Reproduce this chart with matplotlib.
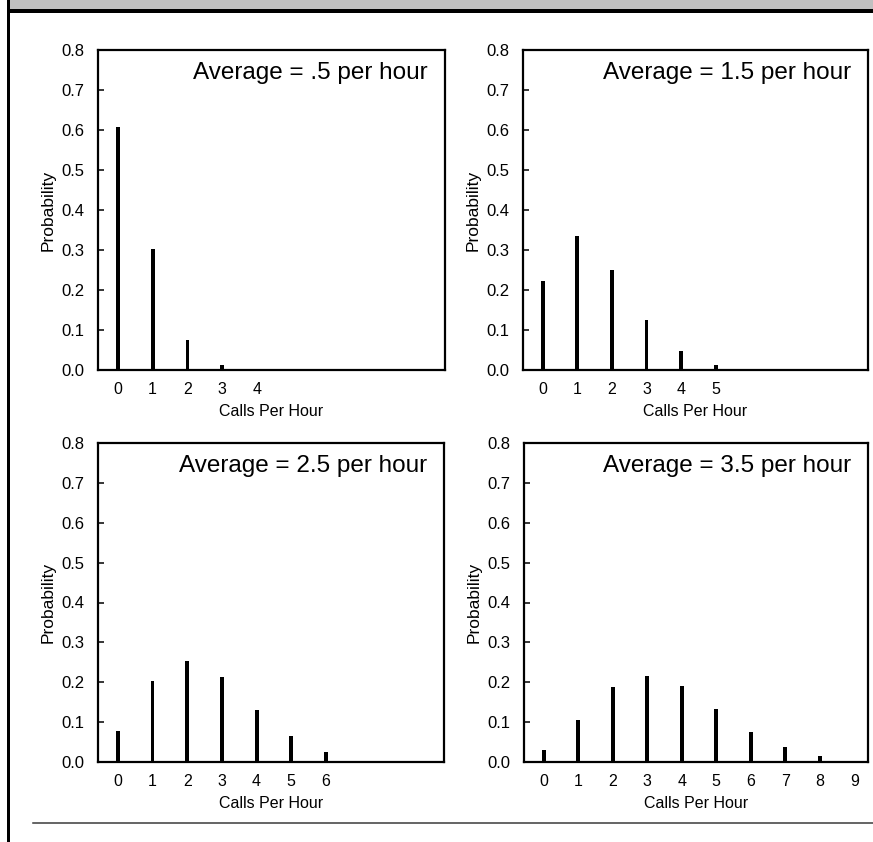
import matplotlib
matplotlib.use("Agg")
import matplotlib.pyplot as plt
from matplotlib.patches import Rectangle
from matplotlib.lines import Line2D

plt.rcParams["font.family"] = ["Liberation Sans", "DejaVu Sans"]

W, H = 873, 842
DPI = 100

# Poisson call-arrival probabilities for four average rates
titles = ["Average = .5 per hour", "Average = 1.5 per hour",
          "Average = 2.5 per hour", "Average = 3.5 per hour"]
calls_05 = [0, 1, 2, 3]
prob_05 = [0.607, 0.303, 0.076, 0.013]
calls_15 = [0, 1, 2, 3, 4, 5]
prob_15 = [0.223, 0.334, 0.251, 0.125, 0.047, 0.013]
calls_25 = [0, 1, 2, 3, 4, 5, 6]
prob_25 = [0.078, 0.202, 0.254, 0.212, 0.131, 0.064, 0.026]
calls_35 = [0, 1, 2, 3, 4, 5, 6, 7, 8]
prob_35 = [0.029, 0.106, 0.187, 0.216, 0.190, 0.133, 0.075, 0.038, 0.016]
xticks_05 = [0, 1, 2, 3, 4]
xticks_15 = [0, 1, 2, 3, 4, 5]
xticks_25 = [0, 1, 2, 3, 4, 5, 6]
xticks_35 = [0, 1, 2, 3, 4, 5, 6, 7, 8, 9]
yticks = [0.0, 0.1, 0.2, 0.3, 0.4, 0.5, 0.6, 0.7, 0.8]

panels = [
    (titles[0], calls_05, prob_05, xticks_05, (98, 50, 445, 370)),
    (titles[1], calls_15, prob_15, xticks_15, (523, 50, 868, 370)),
    (titles[2], calls_25, prob_25, xticks_25, (98, 443, 444, 762)),
    (titles[3], calls_35, prob_35, xticks_35, (524, 443, 868, 762)),
]

fig = plt.figure(figsize=(W / DPI, H / DPI), dpi=DPI)


def fx(px):
    return px / W


def fy(py):
    return 1 - py / H


# page furniture: grey band, heavy rules on top and left, thin rule at bottom
fig.add_artist(Rectangle((fx(10), fy(9)), 1 - fx(10), 9 / H,
                         transform=fig.transFigure, facecolor="#c0c0c0",
                         edgecolor="none"))
fig.add_artist(Rectangle((fx(7), fy(13)), 1 - fx(7), 4 / H,
                         transform=fig.transFigure, facecolor="black",
                         edgecolor="none"))
fig.add_artist(Rectangle((fx(7), 0), 3 / W, 1,
                         transform=fig.transFigure, facecolor="black",
                         edgecolor="none"))
fig.add_artist(Line2D([fx(33), 1], [fy(823), fy(823)],
                      transform=fig.transFigure, color="#3a3a3a", lw=1.1))

narrow = ["Liberation Sans Narrow", "Liberation Sans"]

for title, xs, ps, xt, (l, t, r, b) in panels:
    ax = fig.add_axes([fx(l), fy(b), (r - l) / W, (b - t) / H])
    ax.bar(xs, ps, width=0.11, color="black", edgecolor="none")
    ax.set_xlim(-0.57, 9.4)
    ax.set_ylim(0, 0.8)
    ax.set_xticks(xt)
    ax.set_yticks(yticks)
    ax.set_yticklabels([f"{v:.1f}" for v in yticks])
    ax.tick_params(axis="x", length=0, pad=9, labelsize=11.5)
    ax.tick_params(axis="y", direction="in", length=4.5, width=1.1,
                   pad=10, labelsize=12)
    for s in ax.spines.values():
        s.set_linewidth(1.6)
    ax.set_xlabel("Calls Per Hour", fontsize=11.5, family=narrow,
                  labelpad=5)
    ax.set_ylabel("Probability", fontsize=12.5, family=narrow,
                  labelpad=4)
    ax.text(1 - 17 / (r - l), 1 - 12 / (b - t), title, transform=ax.transAxes,
            ha="right", va="top", fontsize=17.5)

fig.savefig("out.png", dpi=DPI)
